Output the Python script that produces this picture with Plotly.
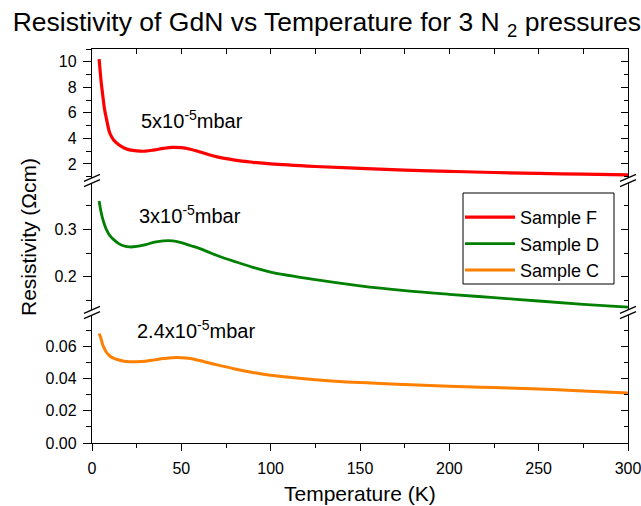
import plotly.graph_objects as go

# ---- data ----
temperature = [4, 5, 6, 7, 8, 10, 12, 15, 18, 21, 25, 30, 35, 40, 45, 50, 55, 60,
               70, 80, 90, 100, 125, 150, 175, 200, 225, 250, 275, 300]
sample_f = [10.2, 8.6, 7.4, 6.3, 5.6, 4.4, 3.9, 3.5, 3.25, 3.1, 3.02, 3.0, 3.1, 3.22,
            3.3, 3.28, 3.15, 2.95, 2.55, 2.3, 2.13, 2.0, 1.8, 1.65, 1.52, 1.42, 1.33,
            1.26, 1.2, 1.14]
sample_d = [0.36, 0.338, 0.322, 0.31, 0.30, 0.287, 0.279, 0.27, 0.265, 0.263, 0.264,
            0.268, 0.273, 0.276, 0.276, 0.272, 0.266, 0.26, 0.245, 0.232, 0.22, 0.21,
            0.194, 0.181, 0.171, 0.163, 0.156, 0.149, 0.142, 0.136]
sample_c = [0.068, 0.065, 0.061, 0.0585, 0.0565, 0.054, 0.0527, 0.0515, 0.0508, 0.0505,
            0.0505, 0.0508, 0.0516, 0.0524, 0.053, 0.053, 0.0524, 0.0512, 0.0485, 0.046,
            0.0438, 0.042, 0.0393, 0.0375, 0.0363, 0.0353, 0.0344, 0.0335, 0.0323, 0.031]

series_names = ["Sample F", "Sample D", "Sample C"]
pressure_labels = ["5x10<sup>-5</sup>mbar", "3x10<sup>-5</sup>mbar", "2.4x10<sup>-5</sup>mbar"]

FONT = "Liberation Sans, Arial, sans-serif"
W, H = 641, 506
ML, MR, MT, MB = 92, 13, 49, 63
PW, PH = W - ML - MR, H - MT - MB

fig = go.Figure()
fig.add_trace(go.Scatter(x=temperature, y=sample_f, name=series_names[0], mode="lines",
                         line=dict(color="#ff0000", width=3.2, shape="spline"),
                         xaxis="x", yaxis="y3"))
fig.add_trace(go.Scatter(x=temperature, y=sample_d, name=series_names[1], mode="lines",
                         line=dict(color="#008000", width=2.8, shape="spline"),
                         xaxis="x", yaxis="y2"))
fig.add_trace(go.Scatter(x=temperature, y=sample_c, name=series_names[2], mode="lines",
                         line=dict(color="#ff8000", width=3, shape="spline"),
                         xaxis="x", yaxis="y"))
# helper traces (no visible marks) so the mirrored frame axes get drawn
for xa, ya in [("x2", "y3"), ("x", "y4"), ("x", "y5"), ("x", "y6")]:
    fig.add_trace(go.Scatter(x=[None], y=[None], xaxis=xa, yaxis=ya, showlegend=False,
                             hoverinfo="skip", mode="lines"))

dom_bot = [0, 0.325]
dom_mid = [0.3376, 0.66]
dom_top = [0.6726, 1]
rng_bot = [0, 0.0795]
rng_mid = [0.13, 0.398]
rng_top = [0.9, 11.0]

tickfont = dict(family=FONT, size=16, color="black")
LW = 1.3

def left_axis(domain, rng, tick0, dtick, fmt, minor_dtick):
    return dict(domain=domain, range=rng, anchor="x", showline=True, linecolor="black",
                linewidth=LW, ticks="outside", ticklen=8, tickwidth=LW, tickcolor="black",
                tickmode="linear", tick0=tick0, dtick=dtick, tickformat=fmt,
                showgrid=False, zeroline=False, tickfont=tickfont, ticklabelstandoff=3,
                automargin=False,
                minor=dict(dtick=minor_dtick, ticks="outside",
                           ticklen=5, tickwidth=LW, tickcolor="black", showgrid=False))

def right_axis(base, rng, tick0, dtick, minor_dtick):
    return dict(overlaying=base, side="right", anchor="x", range=rng, showline=True,
                linecolor="black", linewidth=LW, ticks="inside", ticklen=7, tickwidth=LW,
                tickcolor="black", tickmode="linear", tick0=tick0, dtick=dtick,
                showticklabels=False, showgrid=False, zeroline=False, automargin=False,
                minor=dict(dtick=minor_dtick, ticks="inside",
                           ticklen=4, tickwidth=LW, tickcolor="black", showgrid=False))

fig.update_layout(
    width=W, height=H,
    margin=dict(l=ML, r=MR, t=MT, b=MB, autoexpand=False),
    paper_bgcolor="white", plot_bgcolor="white",
    font=dict(family=FONT, color="black"),
    title=dict(text="Resistivity of GdN vs Temperature for 3 N <sub>2</sub> pressures",
               font=dict(family=FONT, size=26.5, color="black"),
               x=0.51, xanchor="center", xref="container",
               y=1 - 22 / H, yanchor="middle", yref="container"),
    xaxis=dict(domain=[0, 1], range=[0, 300.001], anchor="y", showline=True,
               linecolor="black", linewidth=LW, ticks="outside", ticklen=7, tickwidth=LW,
               tickcolor="black", tickmode="linear", tick0=0, dtick=50, showgrid=False,
               zeroline=False, tickfont=tickfont, ticklabelstandoff=4,
               ticklabeloverflow="allow", automargin=False,
               minor=dict(dtick=25, ticks="outside", ticklen=4,
                          tickwidth=LW, tickcolor="black", showgrid=False)),
    xaxis2=dict(overlaying="x", side="top", anchor="y3", range=[0, 300.001], showline=True,
                linecolor="black", linewidth=LW, ticks="inside", ticklen=5, tickwidth=LW,
                tickcolor="black", tickmode="linear", tick0=0, dtick=25, automargin=False,
                showticklabels=False, showgrid=False, zeroline=False),
    yaxis=left_axis(dom_bot, rng_bot, 0, 0.02, ".2f", 0.01),
    yaxis2=left_axis(dom_mid, rng_mid, 0, 0.1, ".1f", 0.05),
    yaxis3=left_axis(dom_top, rng_top, 0, 2, "d", 1),
    yaxis4=right_axis("y", rng_bot, 0, 0.02, 0.01),
    yaxis5=right_axis("y2", rng_mid, 0, 0.1, 0.05),
    yaxis6=right_axis("y3", rng_top, 0, 2, 1),
    showlegend=True,
    legend=dict(x=(460 - ML) / PW, xanchor="left", y=(443 - 199) / PH, yanchor="top",
                bgcolor="rgba(0,0,0,0)", borderwidth=0, itemwidth=50,
                font=dict(family=FONT, size=18, color="black"), tracegroupgap=0),
)

# legend frame
fig.add_shape(type="rect", xref="paper", yref="paper",
              x0=(463 - ML) / PW, x1=(614 - ML) / PW,
              y0=(443 - 284) / PH, y1=(443 - 193) / PH,
              line=dict(color="black", width=1), fillcolor="rgba(0,0,0,0)")

# axis break marks
for yb in [(443 - 180.5) / PH, (443 - 312.5) / PH]:
    for xb in [0, 1]:
        for c in [2.6, -2.6]:
            fig.add_shape(type="line", xref="paper", yref="paper",
                          xsizemode="pixel", ysizemode="pixel", xanchor=xb, yanchor=yb,
                          x0=-8, x1=8, y0=c - 3.5, y1=c + 3.5,
                          line=dict(color="black", width=LW), layer="above")

# pressure labels
fig.add_annotation(x=26.5, y=5.45, xref="x", yref="y3", text=pressure_labels[0],
                   showarrow=False, xanchor="left", yanchor="middle",
                   font=dict(family=FONT, size=20, color="black"))
fig.add_annotation(x=25.2, y=0.332, xref="x", yref="y2", text=pressure_labels[1],
                   showarrow=False, xanchor="left", yanchor="middle",
                   font=dict(family=FONT, size=20, color="black"))
fig.add_annotation(x=24.0, y=0.0706, xref="x", yref="y", text=pressure_labels[2],
                   showarrow=False, xanchor="left", yanchor="middle",
                   font=dict(family=FONT, size=20, color="black"))

# axis titles
fig.add_annotation(x=(28 - ML) / PW, y=(443 - 237) / PH, xref="paper", yref="paper",
                   text="Resistivity (\u03a9cm)", textangle=-90, showarrow=False,
                   xanchor="center", yanchor="middle",
                   font=dict(family=FONT, size=21, color="black"))
fig.add_annotation(x=0.5, y=(443 - 493) / PH, xref="paper", yref="paper",
                   text="Temperature (K)", showarrow=False,
                   xanchor="center", yanchor="middle",
                   font=dict(family=FONT, size=21, color="black"))

fig.write_html("out.html")
